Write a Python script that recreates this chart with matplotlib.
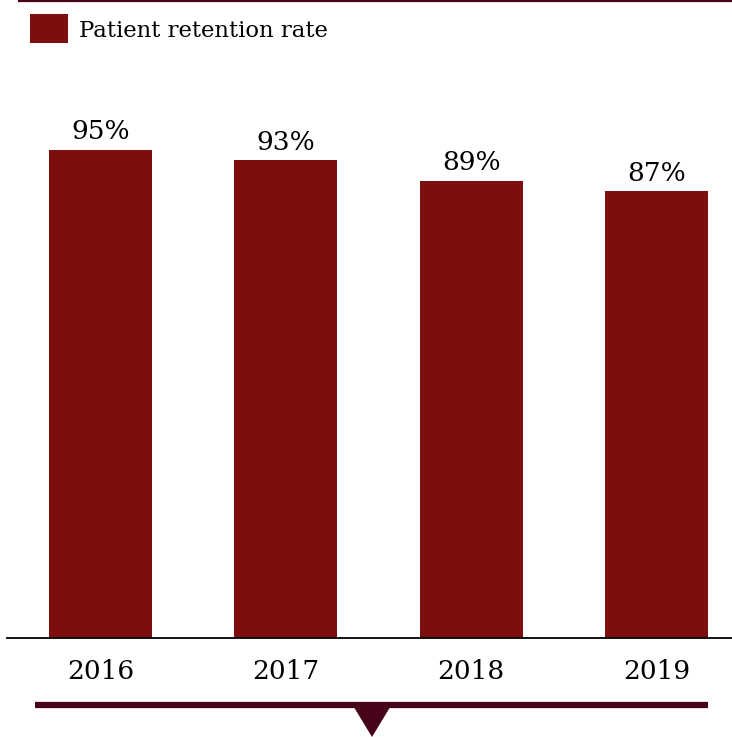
import matplotlib
matplotlib.use("Agg")
import matplotlib.pyplot as plt
from matplotlib.patches import Polygon, Rectangle
from matplotlib.lines import Line2D

years = ["2016", "2017", "2018", "2019"]
retention = [95, 93, 89, 87]
value_labels = ["95%", "93%", "89%", "87%"]
series_name = "Patient retention rate"

BAR = "#7e0d0d"
DARK = "#470418"
W, H = 732, 737

plt.rcParams["font.family"] = ["DejaVu Serif"]

fig = plt.figure(figsize=(W / 100, H / 100), dpi=100)
fig.patch.set_facecolor("white")

def fx(px):
    return px / W

def fy(py):
    return 1 - py / H

# plot area: baseline at y=638px, 5.137 px per percentage point
base_px, top_px = 638, 100
ax = fig.add_axes([fx(7), fy(base_px), fx(732) - fx(7), fy(top_px) - fy(base_px)])
ax.set_ylim(0, (base_px - top_px) / 5.137)
ax.set_xlim(-0.505, 3.408)

xs = range(len(years))
bars = ax.bar(xs, retention, width=0.556, color=BAR, zorder=2)
for rect, lab in zip(bars, value_labels):
    ax.annotate(lab, (rect.get_x() + rect.get_width() / 2, rect.get_height()),
                xytext=(0, 4), textcoords="offset points",
                ha="center", va="bottom", fontsize=19, color="black")

ax.set_xticks(list(xs))
ax.set_xticklabels(years, fontsize=19)
ax.tick_params(axis="x", length=0, pad=15)
ax.set_yticks([])
for side in ("top", "right", "left"):
    ax.spines[side].set_visible(False)
ax.spines["bottom"].set_linewidth(1.3)
ax.spines["bottom"].set_color("black")

# legend: swatch and label
fig.add_artist(Rectangle((fx(30), fy(43)), fx(68) - fx(30), fy(14) - fy(43),
                         transform=fig.transFigure, color=BAR, lw=0))
fig.text(fx(79), fy(31), series_name, fontsize=16.4, va="center", ha="left")

# top rule
fig.add_artist(Line2D([fx(19), fx(732)], [fy(1), fy(1)], color=DARK, lw=1.6,
                      transform=fig.transFigure))

# bottom rule with pointer
fig.add_artist(Line2D([fx(35), fx(708)], [fy(705), fy(705)], color=DARK, lw=4.5,
                      solid_capstyle="butt", transform=fig.transFigure))
fig.add_artist(Polygon([(fx(352), fy(704)), (fx(392), fy(704)), (fx(372), fy(737))],
                       closed=True, transform=fig.transFigure, color=DARK, lw=0))

fig.savefig("out.png", dpi=100, facecolor="white")
